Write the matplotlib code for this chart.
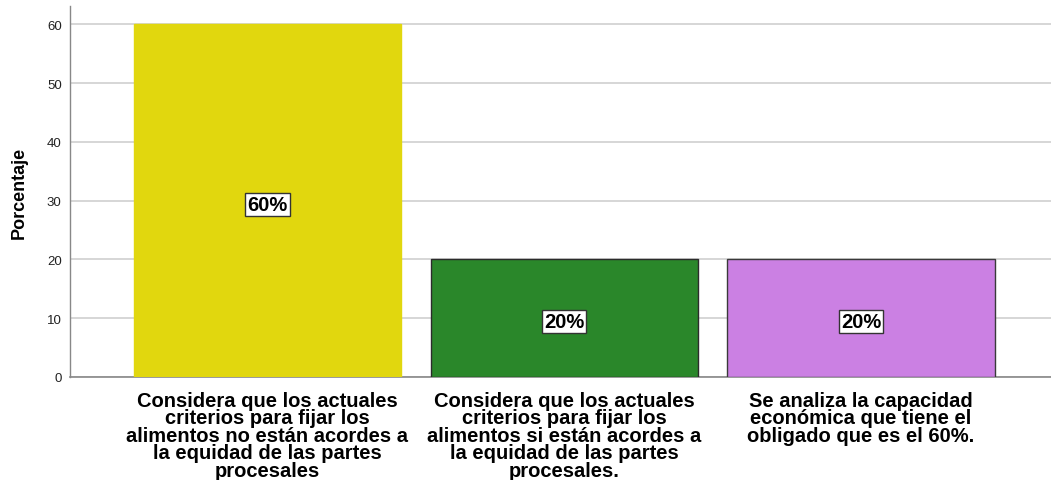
import matplotlib
matplotlib.use("Agg")
import matplotlib.pyplot as plt

categories = [
    "Considera que los actuales\ncriterios para fijar los\nalimentos no están acordes a\nla equidad de las partes\nprocesales",
    "Considera que los actuales\ncriterios para fijar los\nalimentos si están acordes a\nla equidad de las partes\nprocesales.",
    "Se analiza la capacidad\neconómica que tiene el\nobligado que es el 60%.",
]
values = [60, 20, 20]
labels = ["60%", "20%", "20%"]
colors = ["#e1d70e", "#2a872a", "#cb80e3"]
edges = ["#e1d70e", "#2b2b2b", "#3a3a3a"]
yticks = [0, 10, 20, 30, 40, 50, 60]

plt.rcParams['font.family'] = ['Liberation Sans', 'DejaVu Sans']

fig = plt.figure(figsize=(10.51, 4.81), dpi=100)
ax = fig.add_axes([70/1051, 1-378/481, 1-70/1051, (378-7)/481])

x = list(range(len(values)))
bars = ax.bar(x, values, width=0.9, color=colors, edgecolor=edges, linewidth=1, zorder=3)

for xi, v, lab in zip(x, values, labels):
    ax.text(xi, v/2 - 0.6, lab, ha='center', va='center', fontsize=14.5, fontweight='bold',
            color='black', zorder=5,
            bbox=dict(boxstyle='square,pad=0.1', facecolor='white', edgecolor='#333333', linewidth=1))

ax.set_xlim(-0.665, 2.64)
ax.set_ylim(0, 63.1)
ax.set_yticks(yticks)
ax.set_yticklabels([str(t) for t in yticks], fontsize=9.5, color='#222222')
ax.set_xticks(x)
ax.set_xticklabels(categories, fontsize=14.5, fontweight='bold', linespacing=0.9, va='top')
ax.tick_params(axis='x', length=0, pad=10)
ax.tick_params(axis='y', length=0, pad=6)

ax.yaxis.grid(True, color='#cfcfcf', linewidth=1.2, zorder=0)
ax.set_axisbelow(True)
for s in ['top', 'right']:
    ax.spines[s].set_visible(False)
ax.spines['left'].set_color('#888888')
ax.spines['bottom'].set_color('#888888')
ax.spines['left'].set_linewidth(1.0)
ax.spines['bottom'].set_linewidth(1.2)

ax.set_ylabel("Porcentaje", fontsize=13, fontweight='bold', labelpad=14)

fig.savefig("out.png", dpi=100)
